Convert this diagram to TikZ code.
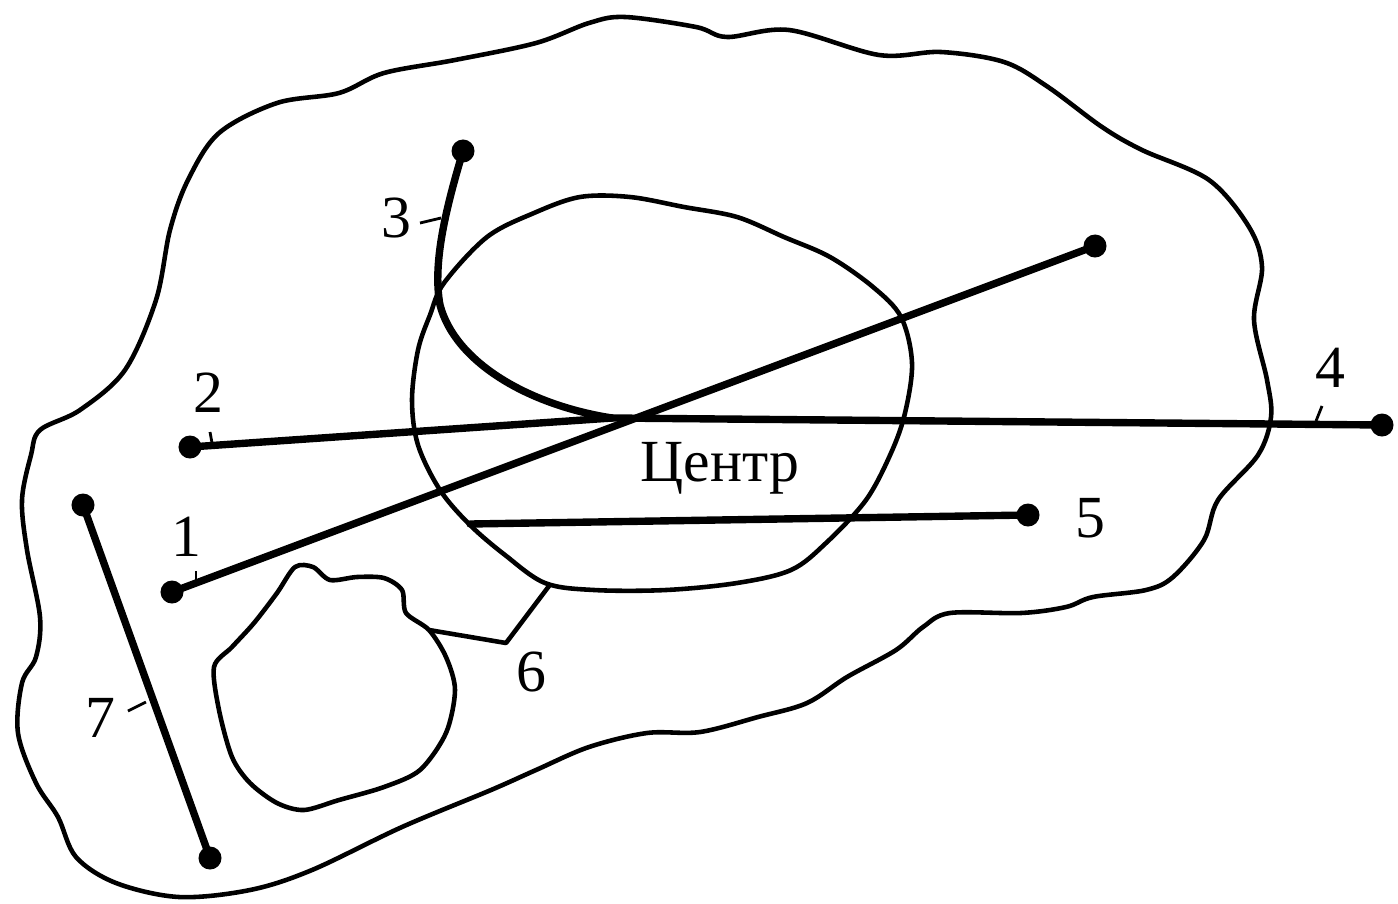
\documentclass[tikz,border=0pt]{standalone}
\usepackage{fontspec}
\setmainfont{Liberation Serif}
\usepackage{tikz}
\usetikzlibrary{calc}

\begin{document}
\begin{tikzpicture}[
  x=0.01cm, y=-0.01cm,
  font=\fontsize{17}{20}\selectfont,
  blob/.style={draw=black, line width=1.3pt, line join=round},
  route/.style={draw=black, line width=2.1pt, line cap=round},
  dot/.style={circle, fill=black, inner sep=0pt, minimum size=0.23cm},
  lbl/.style={inner sep=1pt},
  tick/.style={draw=black, line width=0.8pt},
]
  \useasboundingbox (0,0) rectangle (1398,903);

  % outer territory
  \draw[blob] plot[smooth cycle, tension=0.55] coordinates {
    (40,430) (80,410) (125,370) (156,300) (170,230) (188,180) (219,133) (277,103)
    (339,93) (384,73) (455,60) (536,43) (589,23) (625,17) (696,27) (727,37)
    (789,30) (879,55) (941,52) (1004,62) (1048,87) (1102,127) (1142,150) (1209,180)
    (1249,227) (1262,267) (1254,320) (1267,380) (1271,417) (1258,455) (1218,500)
    (1204,540) (1173,577) (1146,590) (1093,597) (1066,607) (1021,613) (950,613)
    (923,627) (896,650) (847,677) (807,703) (758,717) (700,732) (647,733) (589,747)
    (536,770) (491,790) (402,827) (312,870) (250,890) (179,897) (116,883) (76,857)
    (58,817) (36,783) (18,733) (22,683) (36,657) (40,617) (27,550) (22,500) (31,455)};

  % centre
  \draw[blob] plot[smooth cycle, tension=0.55] coordinates {
    (444,283) (487,237) (534,213) (580,197) (630,197) (684,207) (737,217) (784,237)
    (830,257) (873,287) (901,317) (912,363) (905,413) (891,453) (866,500) (826,543)
    (791,570) (737,583) (666,590) (594,590) (545,583) (505,555) (470,525) (440,490)
    (418,445) (412,400) (418,350) (430,315)};

  % obstacle
  \draw[blob] plot[smooth cycle, tension=0.5] coordinates {
    (295,567) (313,567) (330,580) (357,577) (384,578) (402,590) (406,613) (429,630)
    (446,657) (455,690) (446,733) (420,770) (384,787) (339,800) (304,810) (277,803)
    (250,783) (232,757) (219,710) (214,667) (232,647) (254,623) (277,593)};

  % link 6
  \coordinate (o6) at (429,630);
  \coordinate (k6) at (506,643);
  \coordinate (c6) at (549,586);
  \draw[blob] (o6) -- (k6) -- (c6);

  \coordinate (c) at (612,418);
  \coordinate (s5) at (470,524);

  \node[dot] (d1) at (172,592) {};
  \node[dot] (e1) at (1095,246) {};
  \node[dot] (d2) at (190,447) {};
  \node[dot] (d3) at (463,151) {};
  \node[dot] (d4) at (1382,425) {};
  \node[dot] (d5) at (1028,515) {};
  \node[dot] (d7) at (83,505) {};
  \node[dot] (e7) at (210,858) {};

  \draw[route] (d1.center) -- (e1.center);
  \draw[route] (d2.center) -- (c);
  \draw[route] (c) -- (d4.center);
  \draw[route] (d3.center) .. controls (447,205) and (432,262) .. (440,305)
    .. controls (455,362) and (528,405) .. (c);
  \draw[route] (s5) -- (d5.center);
  \draw[route] (d7.center) -- (e7.center);

  \node[lbl] (l1) at (186,537) {1};
  \node[lbl] (l2) at (208,393) {2};
  \node[lbl] (l3) at (396,218) {3};
  \node[lbl] (l4) at (1330,368) {4};
  \node[lbl] (l5) at (1090,518) {5};
  \node[lbl] (l6) at (531,672) {6};
  \node[lbl] (l7) at (100,718) {7};
  \node[lbl] (ctr) at (720,468) {Центр};

  \coordinate (t1) at (196,582);
  \coordinate (t2) at (212,443);
  \coordinate (t3) at (441,218);
  \coordinate (t4) at (1316,421);
  \coordinate (t7) at (146,702);
  \draw[tick] (196,571) -- (t1);
  \draw[tick] (210,432) -- (t2);
  \draw[tick] (420,223) -- (t3);
  \draw[tick] (1322,406) -- (t4);
  \draw[tick] (128,711) -- (t7);
\end{tikzpicture}
\end{document}
